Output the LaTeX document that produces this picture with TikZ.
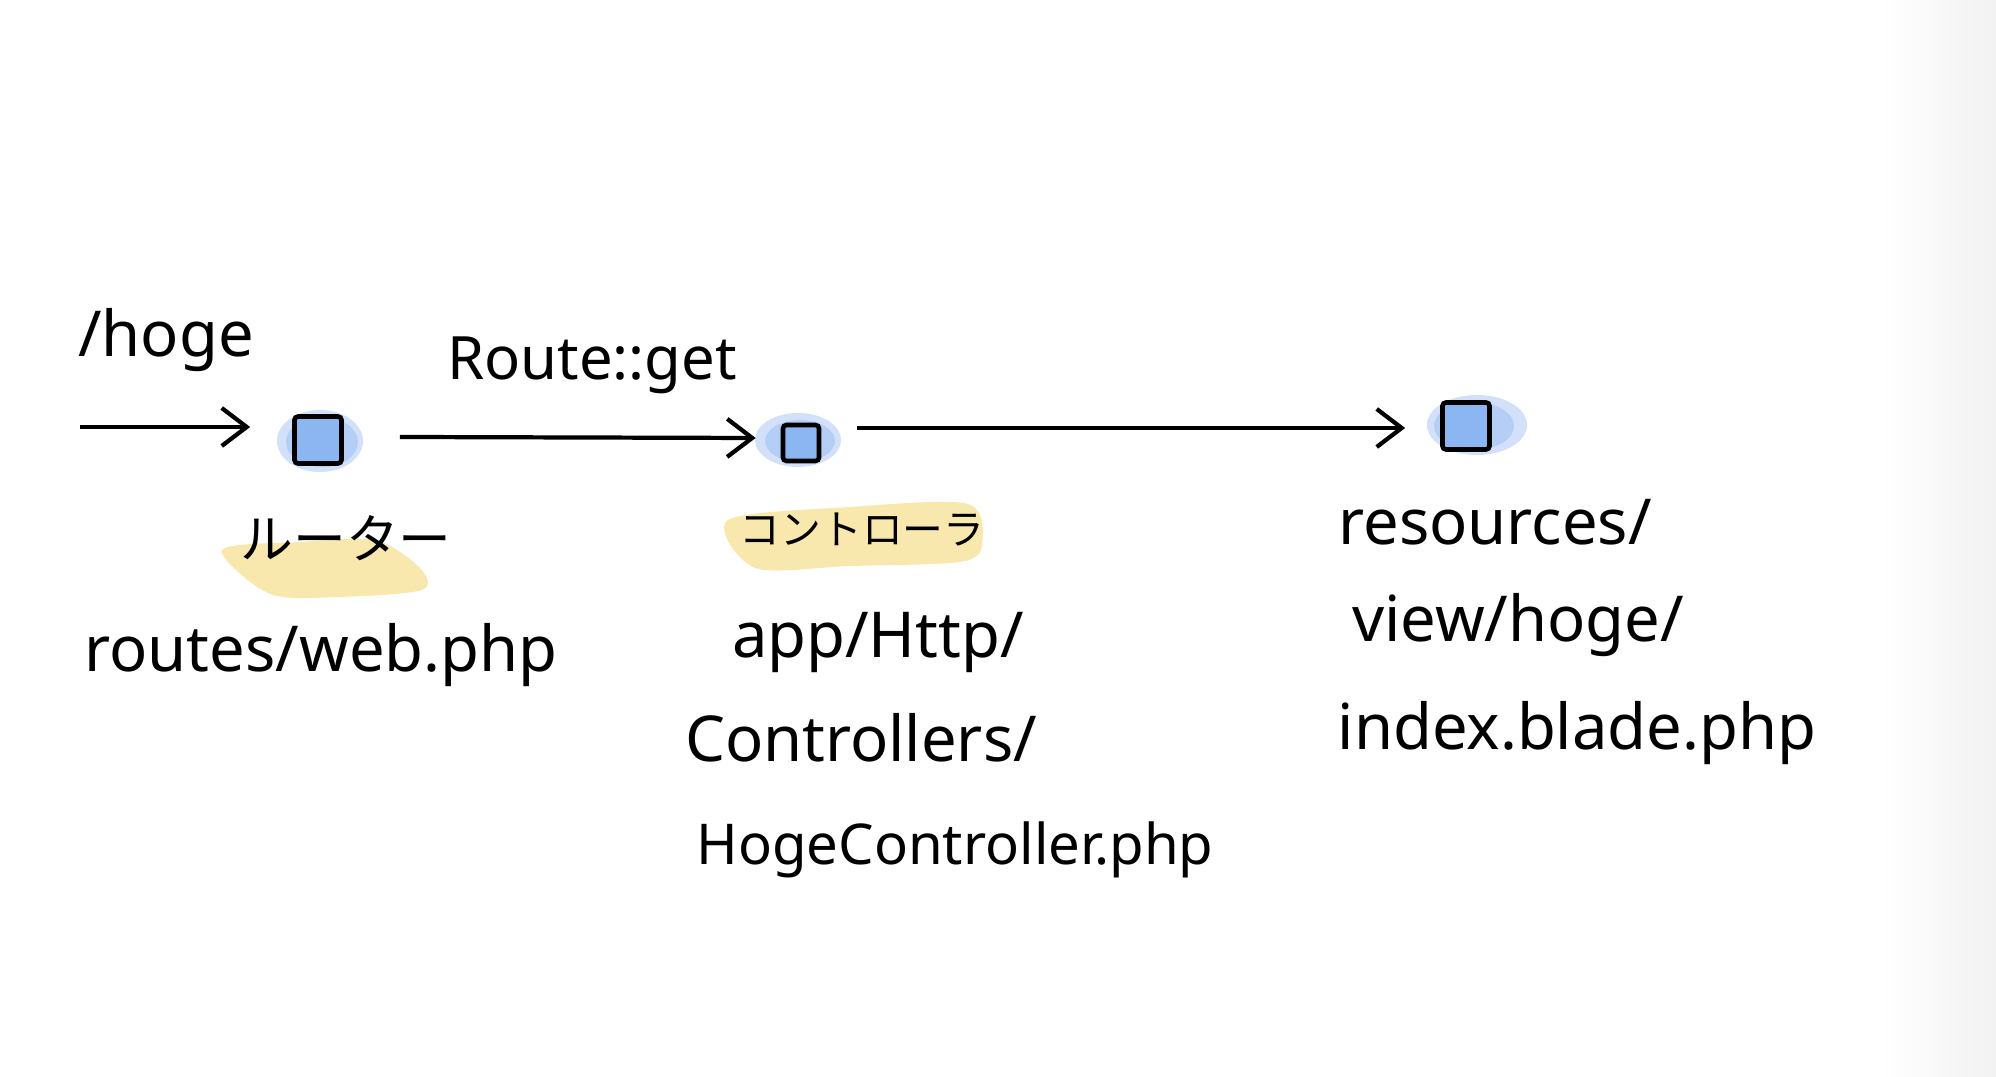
\documentclass[tikz,border=0pt]{standalone}
\usepackage{fontspec}
\setmainfont{Noto Sans}
\newfontfamily\jpfont{Noto Sans CJK JP}
\usetikzlibrary{arrows.meta}

\definecolor{boxblue}{RGB}{140,182,242}
\definecolor{blobblue}{RGB}{125,170,238}
\definecolor{marker}{RGB}{246,222,140}
\definecolor{pageedge}{RGB}{242,242,242}

\tikzset{
  comp/.style={draw, rectangle, line width=1.3pt, fill=boxblue, inner sep=0pt, rounded corners=1pt},
  flow/.style={-{Straight Barb[length=0.25cm,width=0.38cm]}, line width=1.2pt},
  lbl/.style={font=\fontsize{18}{22}\selectfont},
  jp/.style={font=\jpfont\fontsize{15}{18}\selectfont},
  blob/.style={fill=blobblue, opacity=0.35},
  hilite/.style={fill=marker, opacity=0.7},
}

\begin{document}
\begin{tikzpicture}[x=0.01cm, y=-0.01cm]
    \useasboundingbox (0,0) rectangle (1996,1077);
    \shade[left color=white, right color=pageedge] (1880,0) rectangle (1996,1077);
    % marker strokes
    \fill[blob] (320,441) ellipse [x radius=0.43cm, y radius=0.31cm];
    \fill[blob] (322,442) ellipse [x radius=0.36cm, y radius=0.25cm];
    \fill[blob] (798,440) ellipse [x radius=0.43cm, y radius=0.27cm];
    \fill[blob] (800,441) ellipse [x radius=0.35cm, y radius=0.21cm];
    \fill[blob] (1477,425) ellipse [x radius=0.50cm, y radius=0.30cm];
    \fill[blob] (1474,426) ellipse [x radius=0.40cm, y radius=0.24cm];
    \fill[hilite] plot[smooth cycle, tension=0.5] coordinates {(222,550) (300,542) (375,540) (420,568) (422,590) (340,597) (270,594)};
    \fill[hilite] plot[smooth cycle, tension=0.5] coordinates {(728,520) (850,507) (968,504) (982,545) (960,562) (850,566) (755,568)};
    % components
    \node (router) at (318,440) [comp, minimum size=0.47cm] {};
    \node (ctrl) at (801,443) [comp, minimum size=0.36cm] {};
    \node (view) at (1466,426) [comp, minimum size=0.47cm] {};
    \coordinate (in) at (80,427);
    % labels
    \node (url) at (166,340) [lbl] {/hoge};
    \node (routeget) at (592,365) [lbl, font=\fontsize{17}{20}\selectfont] {Route::get};
    \node (routername) at (346,538) [jp] {ルーター};
    \node (ctrlname) at (862,530) [jp, font=\jpfont\fontsize{11.6}{14}\selectfont] {コントローラ};
    \node (routerfile) at (321,655) [lbl] {routes/web.php};
    \node (ctrldir1) at (878,643) [lbl] {app/Http/};
    \node (ctrldir2) at (861,738) [lbl] {Controllers/};
    \node (ctrlfile) at (955,850) [lbl, font=\fontsize{16}{20}\selectfont] {HogeController.php};
    \node (viewdir1) at (1495,522) [lbl] {resources/};
    \node (viewdir2) at (1518,625) [lbl] {view/hoge/};
    \node (viewfile) at (1577,733) [lbl] {index.blade.php};
    % flow
    \draw[flow] (in) -- ([shift={(-42,-13)}]router.west);
    \draw[flow] ([shift={(56,-3)}]router.east) -- ([shift={(-25,-5)}]ctrl.west);
    \draw[flow] ([shift={(36,-15)}]ctrl.east) -- ([shift={(-35,2)}]view.west);
\end{tikzpicture}
\end{document}
